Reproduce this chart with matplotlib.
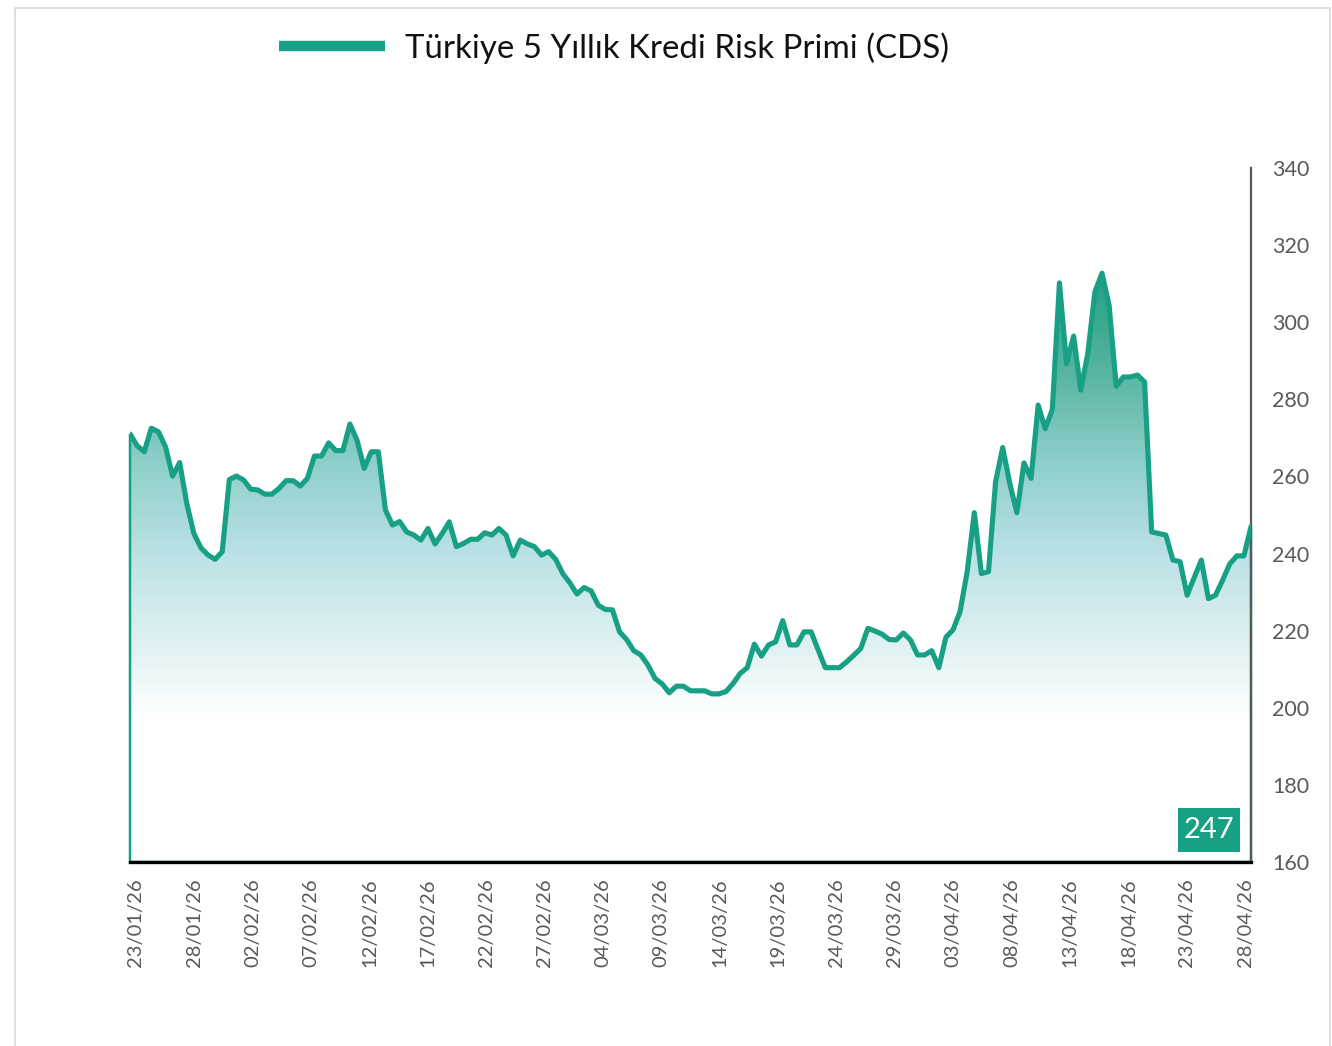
import numpy as np
import matplotlib
matplotlib.use("Agg")
import matplotlib.pyplot as plt
from matplotlib.colors import LinearSegmentedColormap
from matplotlib.patches import Polygon, Rectangle
from matplotlib.lines import Line2D

# ---------------- data ----------------
series_name = "Türkiye 5 Yıllık Kredi Risk Primi (CDS)"

cds_values = [
    271.0, 268.0, 266.4, 272.5, 271.6, 267.7, 260.1, 263.6, 253.0, 245.2,
    241.5, 239.6, 238.5, 240.5, 259.2, 260.1, 259.1, 256.7, 256.5, 255.4,
    255.4, 256.9, 258.9, 258.9, 257.5, 259.5, 265.3, 265.3, 268.7, 266.7,
    266.7, 273.6, 269.4, 262.1, 266.4, 266.4, 251.3, 247.4, 248.3, 245.6,
    244.8, 243.5, 246.5, 242.5, 245.2, 248.2, 241.8, 242.6, 243.7, 243.7,
    245.4, 244.8, 246.5, 244.8, 239.4, 243.5, 242.5, 241.8, 239.6, 240.5,
    238.5, 234.8, 232.4, 229.5, 231.2, 230.3, 226.6, 225.5, 225.4, 219.7,
    217.7, 214.8, 213.7, 211.1, 207.6, 206.2, 203.9, 205.6, 205.6, 204.4,
    204.4, 204.4, 203.6, 203.6, 204.2, 206.3, 208.9, 210.4, 216.5, 213.4,
    216.3, 217.1, 222.6, 216.3, 216.3, 219.7, 219.7, 215.0, 210.4, 210.4,
    210.4, 211.9, 213.6, 215.4, 220.6, 219.9, 219.1, 217.7, 217.6, 219.4,
    217.6, 213.7, 213.7, 214.8, 210.4, 218.3, 220.2, 225.0, 235.3, 250.6,
    234.8, 235.3, 258.6, 267.5, 258.2, 250.6, 263.5, 259.5, 278.5, 272.4,
    277.4, 310.2, 289.3, 296.4, 282.4, 291.9, 307.9, 312.7, 304.4, 283.4,
    285.8, 285.8, 286.3, 284.5, 245.6, 245.2, 244.8, 238.3, 237.9, 229.2,
    233.8, 238.3, 228.3, 229.2, 233.1, 237.3, 239.4, 239.4, 247.0,
]

date_labels = [
    "23/01/26", "28/01/26", "02/02/26", "07/02/26", "12/02/26", "17/02/26",
    "22/02/26", "27/02/26", "04/03/26", "09/03/26", "14/03/26", "19/03/26",
    "24/03/26", "29/03/26", "03/04/26", "08/04/26", "13/04/26", "18/04/26",
    "23/04/26", "28/04/26",
]
tick_step_days = 5
y_ticks = [160, 180, 200, 220, 240, 260, 280, 300, 320, 340]
last_label = "247"

# ---------------- style ----------------
TEAL = "#18a084"
GRAY = "#595959"
FONT = ["Lato", "DejaVu Sans"]
plt.rcParams["font.family"] = FONT

W, H = 1332, 1046
fig = plt.figure(figsize=(W / 100, H / 100), dpi=100)
fig.patch.set_facecolor("white")

ax_left, ax_right = 130 / W, 1251 / W
ax_bottom, ax_top = 1 - 862 / H, 1 - 168 / H
ax = fig.add_axes([ax_left, ax_bottom, ax_right - ax_left, ax_top - ax_bottom])
ax.set_facecolor("none")

vals = np.array(cds_values, dtype=float)
n_days = (len(date_labels) - 1) * tick_step_days
x = np.linspace(-0.5, n_days + 0.5, len(vals))
ymin, ymax = y_ticks[0], y_ticks[-1]

# gradient area fill (value-based)
grad_cmap = LinearSegmentedColormap.from_list(
    "cdsgrad",
    [(0.0, "#ffffff"), (0.25, "#ffffff"), (0.34, "#e6f4f5"),
     (0.51, "#bee3e6"), (0.68, "#8ecfc9"), (0.85, "#52b29e"),
     (1.0, "#22a084")],
)
top = vals.max()
grad = np.linspace(ymin, top, 400).reshape(-1, 1)
im = ax.imshow(grad, extent=[x[0], x[-1], ymin, top], origin="lower",
               aspect="auto", cmap=grad_cmap, vmin=ymin, vmax=top,
               interpolation="bilinear", zorder=1)
verts = np.column_stack([np.r_[x[0], x, x[-1]], np.r_[ymin, vals, ymin]])
poly = Polygon(verts, closed=True, facecolor="none", edgecolor=TEAL,
               lw=1.8, zorder=2)
ax.add_patch(poly)
im.set_clip_path(poly)
poly.set_clip_on(False)

ax.plot(x, vals, color=TEAL, lw=3.7, solid_joinstyle="round",
        solid_capstyle="round", zorder=3)

ax.set_xlim(x[0], x[-1])
ax.set_ylim(ymin, ymax)

# axes styling
for s in ["top", "left"]:
    ax.spines[s].set_visible(False)
ax.spines["bottom"].set_color("black")
ax.spines["bottom"].set_linewidth(2.4)
ax.spines["bottom"].set_zorder(5)
ax.spines["right"].set_color(GRAY)
ax.spines["right"].set_linewidth(1.6)

ax.yaxis.tick_right()
ax.set_yticks(y_ticks)
ax.set_yticklabels([str(v) for v in y_ticks])
ax.tick_params(axis="y", length=0, pad=15, labelsize=15.5, labelcolor=GRAY)

ax.set_xticks(np.arange(0, n_days + 1, tick_step_days))
ax.set_xticklabels(date_labels, rotation=90)
ax.tick_params(axis="x", length=0, pad=12, labelsize=14.5, labelcolor=GRAY)

# last value box
bx0, bx1 = (1178 - 130) / 1121, (1240 - 130) / 1121
by0, by1 = 10 / 694, 54 / 694
ax.add_patch(Rectangle((bx0, by0), bx1 - bx0, by1 - by0, transform=ax.transAxes,
                       facecolor=TEAL, edgecolor="none", zorder=6))
ax.text((bx0 + bx1) / 2, (by0 + by1) / 2, last_label, transform=ax.transAxes,
        ha="center", va="center", color="white", fontsize=21, zorder=7)

# legend
fig.add_artist(Line2D([279 / W, 385 / W], [1 - 46 / H, 1 - 46 / H],
                      transform=fig.transFigure, color=TEAL, lw=7.5,
                      solid_capstyle="butt"))
fig.text(405 / W, 1 - 48 / H, series_name, ha="left", va="center",
         fontsize=23.8, color="#111111")

# outer frame
fig.add_artist(Rectangle((15 / W, -0.02), (1330 - 15) / W, (H - 8) / H + 0.02,
                         transform=fig.transFigure, fill=False,
                         edgecolor="#d9d9d9", lw=1.2))

fig.savefig("out.png", dpi=100, facecolor="white")
